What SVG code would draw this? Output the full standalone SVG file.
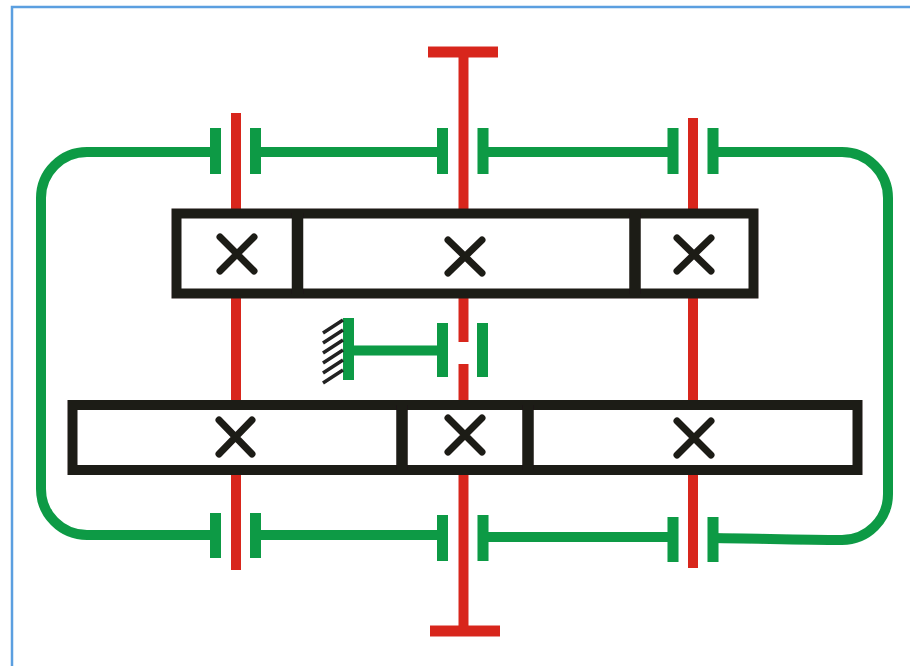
<svg xmlns="http://www.w3.org/2000/svg" width="910" height="666" viewBox="0 0 910 666">
<defs><filter id="b" x="-2%" y="-2%" width="104%" height="104%"><feGaussianBlur stdDeviation="0.7"/></filter></defs>
<style>
.r{stroke:#d8281e;stroke-width:10;fill:none}
.g{stroke:#0b9a45;stroke-width:10;fill:none}
.p{stroke:#0b9a45;stroke-width:11;fill:none}
.k{stroke:#1f1a17;stroke-width:10;fill:#fff}
.d{stroke:#1f1a17;stroke-width:11.500;fill:none}
.x{stroke:#1f1a17;stroke-width:7;fill:none;stroke-linecap:round}
.h{stroke:#222;stroke-width:3.500;fill:none}
</style>
<rect x="12" y="7" width="920" height="680" fill="#fff" stroke="#5b9fe0" stroke-width="2.500"/>
<g filter="url(#b)">
<g id="connectors">
<path class="r" d="M236 113V570"/>
<path class="r" d="M463.500 52V342M463.500 364V630"/>
<path class="r" d="M693 118V568"/>
<path class="r" style="stroke-width:11" d="M428 52H498M430 631H500"/>
<path class="g" d="M216 152H87A46 46 0 0 0 41 198V489A46 46 0 0 0 87 535H216"/>
<path class="g" d="M255 152H443M483 152H674M713 152H842A46 46 0 0 1 888 198V494A46 46 0 0 1 842 540C800 540 760 538.500 713 538"/>
<path class="g" d="M255 535H443M483 537H674"/>
<path class="g" d="M348 350.500H443"/>
</g>
<g id="top-row">
<rect class="k" x="176.500" y="213.500" width="577" height="80"/>
<path class="d" d="M297.500 213.500V293.500M635 213.500V293.500"/>
</g>
<g id="bottom-row">
<rect class="k" x="72.500" y="405" width="785" height="65"/>
<path class="d" d="M402 405V470M528 405V470"/>
</g>
<g id="bearing-top-left"><path class="p" d="M215.500 128V174M255.500 128V174"/></g>
<g id="bearing-top-mid"><path class="p" d="M442.500 128V174M483 128V174"/></g>
<g id="bearing-top-right"><path class="p" d="M673 128V174M713 128V174"/></g>
<g id="bearing-bottom-left"><path class="p" d="M215.500 513V558M255.500 513V558"/></g>
<g id="bearing-bottom-mid"><path class="p" d="M442.500 515V561M483 515V561"/></g>
<g id="bearing-bottom-right"><path class="p" d="M673 517V562M713 517V562"/></g>
<g id="brake">
<path class="p" d="M348.500 318V380M442.500 323V377M482.500 323V377"/>
<path class="h" d="M343 320L323 333M343 330L323 343M343 340L323 353M343 350L323 363M343 360L323 373M343 370L323 383"/>
</g>
<g id="x-marks">
<path class="x" d="M220 237L254 271M254 237L220 271"/>
<path class="x" d="M448 240L482 273M482 240L448 273"/>
<path class="x" d="M677 238L711 271M711 238L677 271"/>
<path class="x" d="M219 420L252 454M252 420L219 454"/>
<path class="x" d="M448 418L482 452M482 418L448 452"/>
<path class="x" d="M677 421L711 455M711 421L677 455"/>
</g>
</g>
</svg>
